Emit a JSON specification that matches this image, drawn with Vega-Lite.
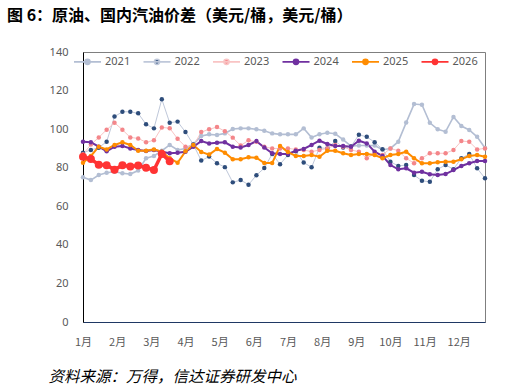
{
  "$schema": "https://vega.github.io/schema/vega-lite/v6.json",
  "width": 402,
  "height": 270,
  "autosize": "none",
  "padding": {"left": 83, "top": 52, "right": 44, "bottom": 66},
  "background": "white",
  "title": {
    "text": "图 6：原油、国内汽油价差（美元/桶，美元/桶）",
    "anchor": "start",
    "frame": "group",
    "dx": -76,
    "offset": 22,
    "fontSize": 16,
    "fontWeight": "bold",
    "font": "Noto Sans CJK SC",
    "color": "#000000"
  },
  "datasets": {
    "weekly": [
      {"week": 1, "2021": 75, "2022": 87.8, "2023": 87, "2024": 93.5, "2025": 82.6, "2026": 85.7},
      {"week": 2, "2021": 73.6, "2022": 89.2, "2023": 92, "2024": 93.2, "2025": 86.1, "2026": 84.5},
      {"week": 3, "2021": 76.2, "2022": 90.4, "2023": 95.7, "2024": 90.9, "2025": 90.9, "2026": 81.6},
      {"week": 4, "2021": 77.4, "2022": 93.5, "2023": 99.7, "2024": 88.5, "2025": 89.5, "2026": 81.3},
      {"week": 5, "2021": 77.9, "2022": 106.5, "2023": 103.3, "2024": 90.9, "2025": 91.8, "2026": 79},
      {"week": 6, "2021": 77.1, "2022": 109, "2023": 99.7, "2024": 91.3, "2025": 93.2, "2026": 81.3},
      {"week": 7, "2021": 76.7, "2022": 109, "2023": 95.7, "2024": 90, "2025": 91.8, "2026": 80.6},
      {"week": 8, "2021": 78.5, "2022": 108.2, "2023": 95.2, "2024": 89.2, "2025": 88.8, "2026": 81.1},
      {"week": 9, "2021": 84.9, "2022": 102.5, "2023": 93.2, "2024": 88.7, "2025": 88.8, "2026": 80},
      {"week": 10, "2021": 86.1, "2022": 100.4, "2023": 94.2, "2024": 89.2, "2025": 89.5, "2026": 78.8},
      {"week": 11, "2021": 88.8, "2022": 115.5, "2023": 100.9, "2024": 88.3, "2025": 88.3, "2026": 87.1},
      {"week": 12, "2021": 91.8, "2022": 103.3, "2023": 100.5, "2024": 87.5, "2025": 84.9, "2026": 83.4},
      {"week": 13, "2021": 89.2, "2022": 103.9, "2023": 95, "2024": 87.8, "2025": 82.6},
      {"week": 14, "2021": 90, "2022": 98.5, "2023": 90.9, "2024": 88.3, "2025": 88.5},
      {"week": 15, "2021": 92.3, "2022": 92, "2023": 91.5, "2024": 90.9, "2025": 91.8},
      {"week": 16, "2021": 96.4, "2022": 83.7, "2023": 98.5, "2024": 93.8, "2025": 88.2},
      {"week": 17, "2021": 97.3, "2022": 85.8, "2023": 99.9, "2024": 92.6, "2025": 86.8},
      {"week": 18, "2021": 97, "2022": 82.3, "2023": 101.1, "2024": 92.9, "2025": 89.7},
      {"week": 19, "2021": 97.8, "2022": 80.3, "2023": 98.9, "2024": 93.2, "2025": 87.8},
      {"week": 20, "2021": 100.1, "2022": 72.4, "2023": 95.6, "2024": 90.9, "2025": 84.4},
      {"week": 21, "2021": 100.4, "2022": 73.6, "2023": 91.5, "2024": 90.5, "2025": 84.4},
      {"week": 22, "2021": 100.4, "2022": 71.2, "2023": 94.2, "2024": 91.8, "2025": 85.4},
      {"week": 23, "2021": 99.9, "2022": 76.1, "2023": 93.4, "2024": 93.8, "2025": 85.2},
      {"week": 24, "2021": 99.2, "2022": 79.8, "2023": 90.9, "2024": 90.5, "2025": 82.4},
      {"week": 25, "2021": 97.8, "2022": 87.1, "2023": 90, "2024": 87.5, "2025": 82.4},
      {"week": 26, "2021": 97.3, "2022": 81.8, "2023": 90, "2024": 87.1, "2025": 91.3},
      {"week": 27, "2021": 97.3, "2022": 86.6, "2023": 90, "2024": 87.1, "2025": 88.1},
      {"week": 28, "2021": 97.3, "2022": 88.5, "2023": 89.5, "2024": 88.8, "2025": 86.1},
      {"week": 29, "2021": 100.4, "2022": 82.7, "2023": 89.2, "2024": 89.7, "2025": 86.1},
      {"week": 30, "2021": 95.7, "2022": 80.2, "2023": 88.3, "2024": 91.8, "2025": 86.6},
      {"week": 31, "2021": 97.4, "2022": 90.3, "2023": 89.2, "2024": 94, "2025": 85.7},
      {"week": 32, "2021": 98.1, "2022": 90, "2023": 90, "2024": 92.3, "2025": 88.8},
      {"week": 33, "2021": 97.6, "2022": 93.8, "2023": 91.8, "2024": 91.3, "2025": 88.8},
      {"week": 34, "2021": 94.6, "2022": 90.5, "2023": 90.9, "2024": 91.3, "2025": 87.5},
      {"week": 35, "2021": 91.2, "2022": 91, "2023": 89.2, "2024": 90.9, "2025": 86.6},
      {"week": 36, "2021": 91.5, "2022": 97.1, "2023": 88.3, "2024": 94, "2025": 87.1},
      {"week": 37, "2021": 91.5, "2022": 96, "2023": 84.9, "2024": 92.6, "2025": 87.1},
      {"week": 38, "2021": 91.5, "2022": 93.2, "2023": 87.5, "2024": 88.3, "2025": 86.6},
      {"week": 39, "2021": 89.3, "2022": 89.6, "2023": 86.6, "2024": 86.1, "2025": 84.9},
      {"week": 40, "2021": 90, "2022": 83.1, "2023": 90, "2024": 81.4, "2025": 86.6},
      {"week": 41, "2021": 93.5, "2022": 80.9, "2023": 88.8, "2024": 79.2, "2025": 87.1},
      {"week": 42, "2021": 103.4, "2022": 81.4, "2023": 84.9, "2024": 79.7, "2025": 88.3},
      {"week": 43, "2021": 113, "2022": 76.2, "2023": 82.3, "2024": 77.4, "2025": 84.9},
      {"week": 44, "2021": 112.7, "2022": 73.2, "2023": 84.9, "2024": 77.9, "2025": 82.3},
      {"week": 45, "2021": 103.3, "2022": 72.7, "2023": 87.5, "2024": 76.6, "2025": 82.3},
      {"week": 46, "2021": 99.9, "2022": 79.2, "2023": 87.5, "2024": 76.2, "2025": 82.8},
      {"week": 47, "2021": 98.7, "2022": 81.4, "2023": 87.5, "2024": 76.7, "2025": 83.1},
      {"week": 48, "2021": 106.3, "2022": 79.2, "2023": 89.2, "2024": 78.8, "2025": 83.1},
      {"week": 49, "2021": 101.6, "2022": 84.9, "2023": 93.8, "2024": 80.9, "2025": 84.4},
      {"week": 50, "2021": 99.6, "2022": 87.1, "2023": 93.5, "2024": 82.3, "2025": 86.1},
      {"week": 51, "2021": 96, "2022": 79.7, "2023": 89.5, "2024": 83.5, "2025": 86.6},
      {"week": 52, "2021": 90.2, "2022": 74.5, "2023": 90, "2024": 83.5, "2025": 85.7}
    ]
  },
  "data": {"name": "weekly"},
  "encoding": {
    "x": {
      "field": "week",
      "type": "quantitative",
      "scale": {"domain": [1, 52], "nice": false, "zero": false},
      "axis": {
        "values": [1, 5.3333, 9.6667, 14, 18.3333, 22.6667, 27, 31.3333, 35.6667, 40, 44.3333, 48.6667],
        "labelExpr": "round((datum.value - 1) / 4.33333 + 1) + '月'",
        "ticks": false,
        "grid": false,
        "labelFlush": false,
        "labelOverlap": false,
        "domainColor": "#1F3864",
        "domainWidth": 1,
        "labelColor": "#595959",
        "labelFontSize": 11,
        "labelFont": "Noto Sans CJK SC",
        "labelPadding": 14,
        "title": "资料来源：万得，信达证券研发中心",
        "titleX": -35,
        "titleY": 54,
        "titleAlign": "left",
        "titleAnchor": null,
        "titleBaseline": "middle",
        "titleFont": "Noto Sans CJK SC",
        "titleFontStyle": "italic",
        "titleFontWeight": "normal",
        "titleFontSize": 15.5,
        "titleColor": "#000000"
      }
    },
    "y": {
      "field": "value",
      "type": "quantitative",
      "scale": {"domain": [0, 140], "nice": false},
      "axis": {
        "values": [0, 20, 40, 60, 80, 100, 120, 140],
        "ticks": false,
        "grid": false,
        "domainColor": "#000000",
        "labelColor": "#595959",
        "labelFontSize": 11,
        "labelFont": "Noto Sans",
        "labelPadding": 15,
        "title": null
      }
    }
  },
  "layer": [
    {
      "transform": [{"fold": ["2021"], "as": ["yr", "value"]}],
      "mark": {"type": "line", "stroke": "#B3BED3", "strokeWidth": 1.6}
    },
    {
      "transform": [{"fold": ["2022"], "as": ["yr", "value"]}],
      "mark": {"type": "line", "stroke": "#BFC8DA", "strokeWidth": 1}
    },
    {
      "transform": [{"fold": ["2023"], "as": ["yr", "value"]}],
      "mark": {"type": "line", "stroke": "#F9C4C4", "strokeWidth": 1}
    },
    {
      "transform": [{"fold": ["2024"], "as": ["yr", "value"]}],
      "mark": {"type": "line", "stroke": "#7030A0", "strokeWidth": 2}
    },
    {
      "transform": [{"fold": ["2025"], "as": ["yr", "value"]}],
      "mark": {"type": "line", "stroke": "#FF8C00", "strokeWidth": 2}
    },
    {
      "transform": [
        {"fold": ["2021", "2022", "2023", "2024", "2025"], "as": ["year", "value"]},
        {"filter": "isValid(datum.value)"}
      ],
      "mark": {"type": "circle", "opacity": 1, "size": 20},
      "encoding": {
        "fill": {
          "field": "year", "type": "nominal",
          "scale": {"domain": ["2021", "2022", "2023", "2024", "2025", "2026"], "range": ["#B3BED3", "#2E4D7B", "#F4868A", "#7030A0", "#FF8C00", "#FF3333"]},
          "legend": {
            "orient": "none",
            "legendX": -10,
            "legendY": -5,
            "direction": "horizontal",
            "title": null,
            "symbolType": "M-1,0H1M-0.19,0A0.19,0.19,0,1,1,0.19,0A0.19,0.19,0,1,1,-0.19,0Z",
            "symbolSize": 729,
            "symbolStrokeColor": {"expr": "datum.value === '2021' ? '#B3BED3' : datum.value === '2022' ? '#BFC8DA' : datum.value === '2023' ? '#F9C4C4' : datum.value === '2024' ? '#7030A0' : datum.value === '2025' ? '#FF8C00' : '#FF3333'"},
            "symbolStrokeWidth": 1.6,
            "labelFontSize": 11,
            "labelFont": "Noto Sans",
            "labelColor": "#595959",
            "labelOffset": 3,
            "columnPadding": 8.5
          }
        },
        "order": {"field": "year", "type": "nominal"}
      }
    },
    {
      "transform": [
        {"fold": ["2026"], "as": ["yr", "value"]},
        {"filter": "isValid(datum.value)"}
      ],
      "mark": {"type": "line", "stroke": "#FF3333", "strokeWidth": 3.5}
    },
    {
      "transform": [
        {"fold": ["2026"], "as": ["yr", "value"]},
        {"filter": "isValid(datum.value)"}
      ],
      "mark": {"type": "circle", "opacity": 1, "size": 64, "fill": "#FF3333"}
    }
  ],
  "config": {
    "view": {"stroke": "#7F7F7F", "strokeWidth": 1},
    "font": "Noto Sans CJK SC"
  }
}
